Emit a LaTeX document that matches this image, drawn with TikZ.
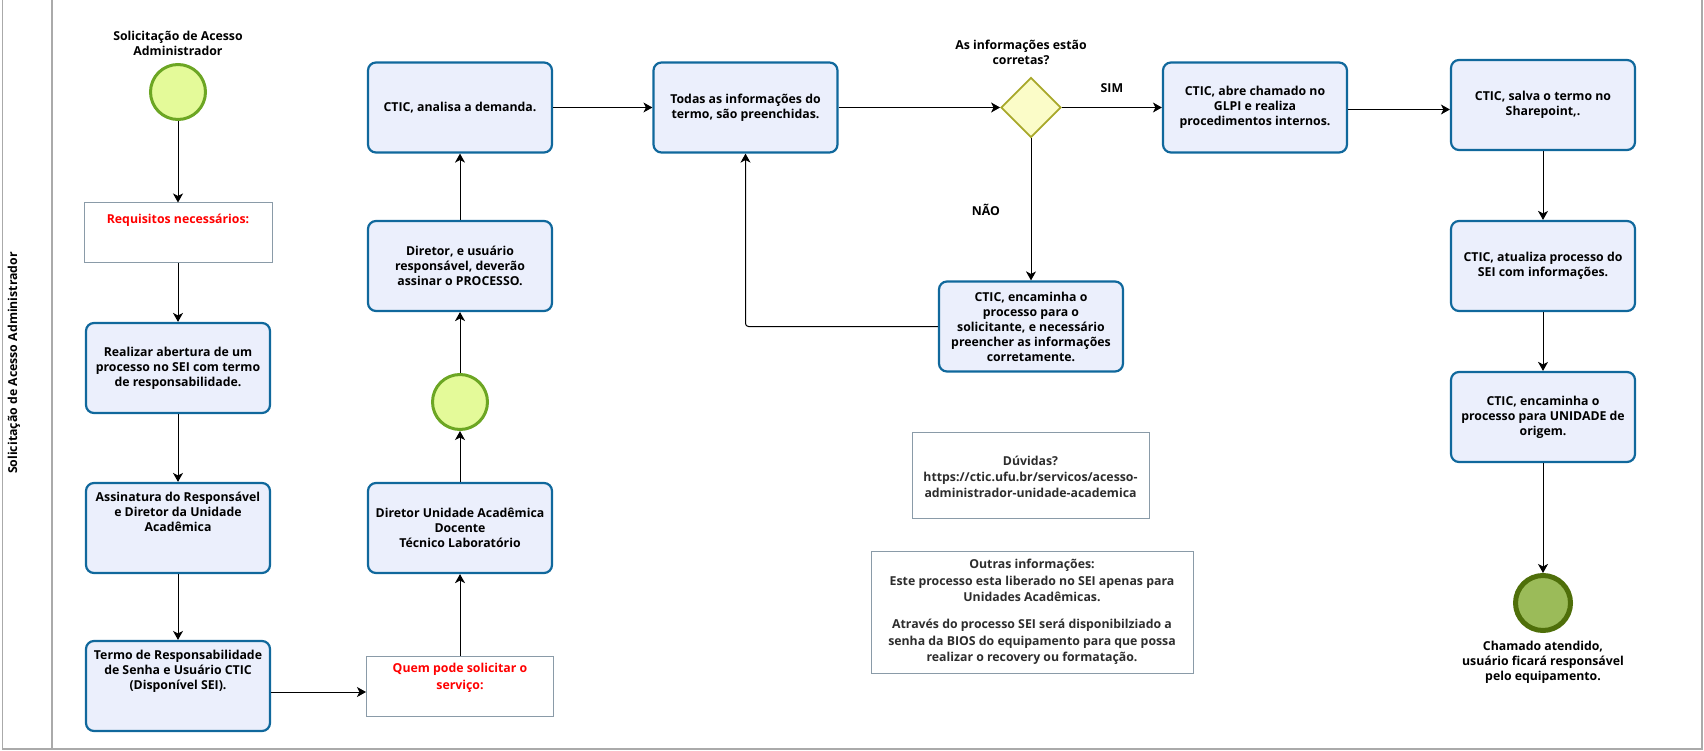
\documentclass[tikz,border=0pt]{standalone}
\usepackage{fontspec}
\setmainfont{Open Sans}
\usetikzlibrary{arrows.meta,shapes.geometric}
\definecolor{taskfill}{RGB}{235,239,252}
\definecolor{taskdraw}{RGB}{16,104,156}
\definecolor{notedraw}{RGB}{138,155,168}
\definecolor{startfill}{RGB}{228,250,153}
\definecolor{startdraw}{RGB}{108,166,35}
\definecolor{endfill}{RGB}{155,187,89}
\definecolor{enddraw}{RGB}{79,111,10}
\definecolor{gwfill}{RGB}{251,252,200}
\definecolor{gwdraw}{RGB}{168,168,42}
\definecolor{lanedraw}{RGB}{170,170,170}
\definecolor{redtxt}{RGB}{255,0,0}
\definecolor{notetxt}{RGB}{45,45,45}
\begin{document}
\begin{tikzpicture}[x=1pt,y=-1pt,
  every node/.style={font=\fontsize{12.3}{15}\selectfont\bfseries, align=center, inner sep=0pt, text=black},
  task/.style={draw=taskdraw, fill=taskfill, line width=2.2pt, rounded corners=8pt, minimum width=184pt, minimum height=90pt},
  note/.style={draw=notedraw, fill=white, line width=1pt},
  startev/.style={circle, draw=startdraw, fill=startfill, line width=3pt, minimum size=55pt},
  endev/.style={circle, draw=enddraw, fill=endfill, line width=5pt, minimum size=55pt},
  gateway/.style={diamond, draw=gwdraw, fill=gwfill, line width=1.8pt, minimum width=60pt, minimum height=60pt},
  redlbl/.style={text=redtxt, font=\fontsize{12.3}{17}\selectfont\bfseries},
  notelbl/.style={text=notetxt, font=\fontsize{12.3}{16.3}\selectfont\bfseries},
  flow/.style={draw=black, line width=1pt, -{Stealth[length=9pt,width=10pt,inset=2.5pt]}},
  lane/.style={draw=lanedraw, line width=1.5pt}
]
\useasboundingbox (0,0) rectangle (1704,751);
% pool frame
\draw[lane] (2.5,0) -- (2.5,749) -- (1702,749) -- (1702,0);
\draw[lane] (52,0) -- (52,749);
\node[rotate=90, font=\fontsize{12.3}{14}\selectfont\bfseries] (lanelbl) at (14,363) {Solicitação de Acesso Administrador};

% column 1
\node (startlbl) at (178,43) {Solicitação de Acesso\\Administrador};
\node[startev] (start) at (178,92) {};
\node[note, minimum width=188pt, minimum height=60pt] (req) at (178,233) {};
\node[redlbl] (reqtxt) at (178,220) {Requisitos necessários:};
\node[task] (realizar) at (178,368) {Realizar abertura de um\\processo no SEI com termo\\de responsabilidade.};
\node[task] (assin) at (178,528) {};
\node (assintxt) at (178,512) {Assinatura do Responsável\\e Diretor da Unidade\\Acadêmica};
\node[task] (termo) at (178,686) {};
\node (termotxt) at (178,671) {Termo de Responsabilidade\\de Senha e Usuário CTIC\\(Disponível SEI).};

% column 2
\node[note, minimum width=187pt, minimum height=60pt] (quem) at (460,686) {};
\node[redlbl] (quemtxt) at (460,677.5) {Quem pode solicitar o\\serviço:};
\node[task] (dirunid) at (460,528) {Diretor Unidade Acadêmica\\Docente\\Técnico Laboratório};
\node[startev] (mid) at (460,402) {};
\node[task] (dirusu) at (460,266) {Diretor, e usuário\\responsável, deverão\\assinar o PROCESSO.};
\node[task] (analisa) at (460,107.5) {CTIC, analisa a demanda.};

% column 3
\node[task] (todas) at (745.5,107.5) {Todas as informações do\\termo, são preenchidas.};
\node[gateway] (gw) at (1031,107.5) {};
\node (gwlbl) at (1021,52) {As informações estão\\corretas?};
\node[task] (corrige) at (1031,326.5) {CTIC, encaminha o\\processo para o\\solicitante, e necessário\\preencher as informações\\corretamente.};
\node[task] (abre) at (1255,107.5) {CTIC, abre chamado no\\GLPI e realiza\\procedimentos internos.};

% notes
\node[note, minimum width=237pt, minimum height=86pt] (duv) at (1030.5,475) {};
\node[notelbl] (duvtxt) at (1030.5,477) {Dúvidas?\\https://ctic.ufu.br/servicos/acesso-\\administrador-unidade-academica};
\node[note, minimum width=322pt, minimum height=122pt] (outras) at (1032,612) {};
\node[notelbl] (outrastxt) at (1032,612) {Outras informações:\\Este processo esta liberado no SEI apenas para\\Unidades Acadêmicas.\\[11pt]Através do processo SEI será disponibilziado a\\senha da BIOS do equipamento para que possa\\realizar o recovery ou formatação.};

% last column
\node[task] (salva) at (1543,105) {CTIC, salva o termo no\\Sharepoint,.};
\node[task] (atual) at (1543,266) {CTIC, atualiza processo do\\SEI com informações.};
\node[task] (encam) at (1543,417) {CTIC, encaminha o\\processo para UNIDADE de\\origem.};
\node[endev] (fim) at (1543,603) {};
\node (fimlbl) at (1543,662) {Chamado atendido,\\usuário ficará responsável\\pelo equipamento.};

% flows
\draw[flow] (start) -- (req);
\draw[flow] (req) -- (realizar);
\draw[flow] (realizar) -- (assin);
\draw[flow] (assin) -- (termo);
\draw[flow] ([yshift=-6pt]termo.east) -- ([yshift=-6pt]termo.east -| quem.west);
\draw[flow] (quem) -- (dirunid);
\draw[flow] (dirunid) -- (mid);
\draw[flow] (mid) -- (dirusu);
\draw[flow] (dirusu) -- (analisa);
\draw[flow] (analisa) -- (todas);
\draw[flow] (todas) -- (gw);
\draw[flow] (gw) -- node[pos=0.5, yshift=19pt] (sim) {SIM} (abre);
\draw[flow] (gw) -- node[pos=0.5, xshift=-45pt] (nao) {NÃO} (corrige);
\draw[flow, rounded corners=3pt] (corrige.west) -| (todas.south);
\draw[flow] ([yshift=-2pt]abre.east) -- ([yshift=-2pt]abre.east -| salva.west);
\draw[flow] (salva) -- (atual);
\draw[flow] (atual) -- (encam);
\draw[flow] (encam) -- (fim);
\end{tikzpicture}
\end{document}
